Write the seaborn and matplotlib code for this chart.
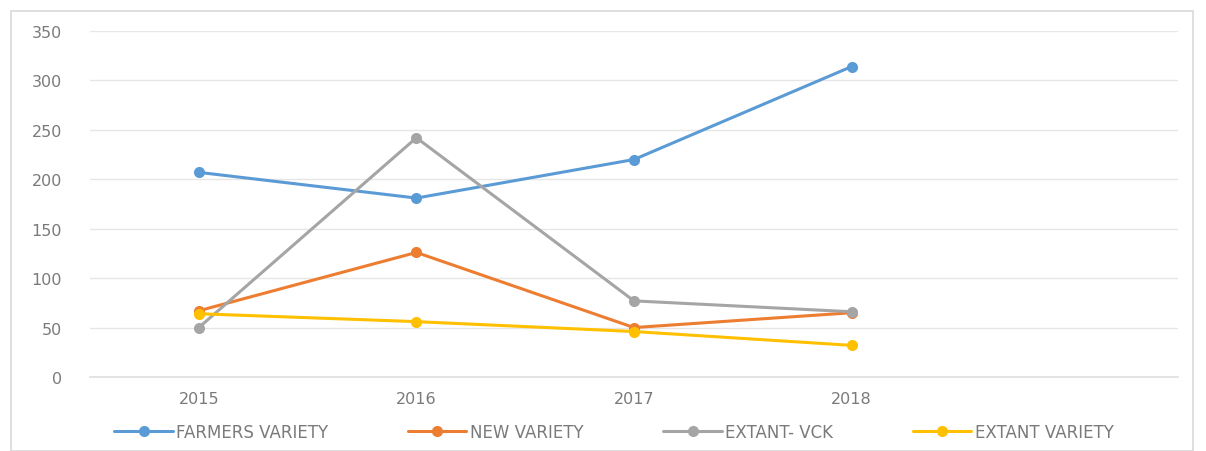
import matplotlib
matplotlib.use("Agg")
import matplotlib.pyplot as plt
import seaborn as sns
import pandas as pd
from matplotlib.patches import Rectangle

years = ["2015", "2016", "2017", "2018"]
farmers_variety = [207, 181, 220, 314]
new_variety = [67, 126, 50, 65]
extant_vck = [50, 242, 77, 66]
extant_variety = [64, 56, 46, 32]
series_names = ["FARMERS VARIETY", "NEW VARIETY", "EXTANT- VCK", "EXTANT VARIETY"]
colors = ["#5B9BD5", "#ED7D31", "#A5A5A5", "#FFC000"]

rows = []
for name, vals in zip(series_names, [farmers_variety, new_variety, extant_vck, extant_variety]):
    for i, v in enumerate(vals):
        rows.append({"pos": i, "year": years[i], "value": v, "series": name})
df = pd.DataFrame(rows)

sns.set_theme(style="white")
plt.rcParams["font.family"] = ["DejaVu Sans"]

fig = plt.figure(figsize=(12.06, 4.52), dpi=100)
ax = fig.add_axes([90/1206, 74/452, (1178-90)/1206, (378-32)/452])

sns.lineplot(data=df, x="pos", y="value", hue="series", hue_order=series_names,
             palette=colors, marker="o", markersize=8, markeredgewidth=0,
             linewidth=2.2, ax=ax, legend=True)

ax.set_xlim(-0.5, 4.5)
ax.set_ylim(0, 350)
ax.set_yticks(range(0, 351, 50))
ax.set_xticks(range(len(years)))
ax.set_xticklabels(years)
ax.set_xlabel("")
ax.set_ylabel("")
ax.grid(axis="y", color="#E6E6E6", linewidth=1)
ax.grid(axis="x", visible=False)
for s in ["top", "right", "left"]:
    ax.spines[s].set_visible(False)
ax.spines["bottom"].set_color("#E0E0E0")
ax.tick_params(axis="x", colors="#7A7A7A", labelsize=11.5, length=0, pad=10)
ax.tick_params(axis="y", colors="#7A7A7A", labelsize=11.5, length=0, pad=20)
for lab in ax.get_xticklabels() + ax.get_yticklabels():
    lab.set_color("#7A7A7A")

handles, labels = ax.get_legend_handles_labels()
ax.legend(handles, labels, loc="center", bbox_to_anchor=(614/1206, (452-433)/452),
          bbox_transform=fig.transFigure, ncol=4, frameon=False,
          fontsize=12, labelcolor="#7A7A7A", handlelength=3.5, columnspacing=4.8,
          handletextpad=0.2)

fig.patches.append(Rectangle((11/1206, 0), (1193-11)/1206, (452-12)/452,
                             transform=fig.transFigure, fill=False,
                             edgecolor="#D9D9D9", linewidth=1.2))

fig.savefig("out.png", dpi=100)
